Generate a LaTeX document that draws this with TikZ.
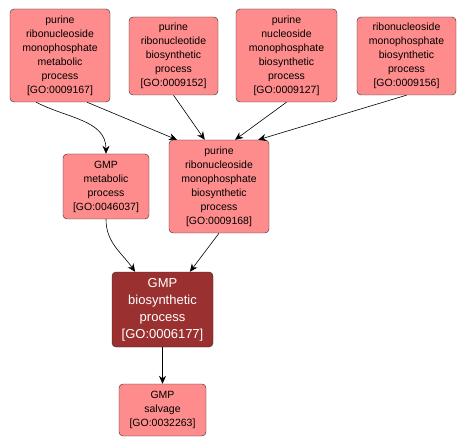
\documentclass[tikz,border=0pt]{standalone}
\usepackage{fontspec}
\usetikzlibrary{arrows.meta}
\setmainfont{Liberation Sans}
\definecolor{goterm}{RGB}{255,140,140}
\definecolor{goquery}{RGB}{155,48,48}

\begin{document}
\begin{tikzpicture}[x=1pt,y=-1pt,
    term/.style={draw=black!85,fill=goterm,rounded corners=4pt,align=center,
        font=\fontsize{10.5}{14}\selectfont,inner sep=0pt},
    query/.style={term,fill=goquery,text=white,font=\fontsize{13}{17}\selectfont},
    arr/.style={-{Stealth[length=8pt,width=7pt]},semithick}]
        \useasboundingbox (0,0) rectangle (468,446);
        \draw (60,55.5)    node[term,minimum width=100,minimum height=93] (a) {purine\\ribonucleoside\\monophosphate\\metabolic\\process\\{[GO:0009167]}};
        \draw (173.5,56)   node[term,minimum width=89,minimum height=78] (b) {purine\\ribonucleotide\\biosynthetic\\process\\{[GO:0009152]}};
        \draw (286.5,55.5) node[term,minimum width=101,minimum height=93] (c) {purine\\nucleoside\\monophosphate\\biosynthetic\\process\\{[GO:0009127]}};
        \draw (406.5,56)   node[term,minimum width=99,minimum height=78] (d) {ribonucleoside\\monophosphate\\biosynthetic\\process\\{[GO:0009156]}};
        \draw (106,186.5)  node[term,minimum width=86,minimum height=65] (e) {GMP\\metabolic\\process\\{[GO:0046037]}};
        \draw (219,186.5)  node[term,minimum width=100,minimum height=93] (f) {purine\\ribonucleoside\\monophosphate\\biosynthetic\\process\\{[GO:0009168]}};
        \draw (162.5,309.5) node[query,minimum width=101,minimum height=75] (g) {GMP\\biosynthetic\\process\\{[GO:0006177]}};
        \draw (162.5,410)  node[term,minimum width=87,minimum height=52] (h) {GMP\\salvage\\{[GO:0032263]}};
        \draw[arr] (a.-117) to[out=-28,in=90] (e.north);
        \draw[arr] (a.-60) -- (f.132);
        \draw[arr] (b.south) -- (f.107);
        \draw[arr] (c.south) -- (f.71);
        \draw[arr] (d.south) -- (f.50);
        \draw[arr] (e.south) to[out=-90,in=125] (g.126);
        \draw[arr] (f.south) -- (g.54);
        \draw[arr] (g.south) -- (h.north);
    \end{tikzpicture}
\end{document}
